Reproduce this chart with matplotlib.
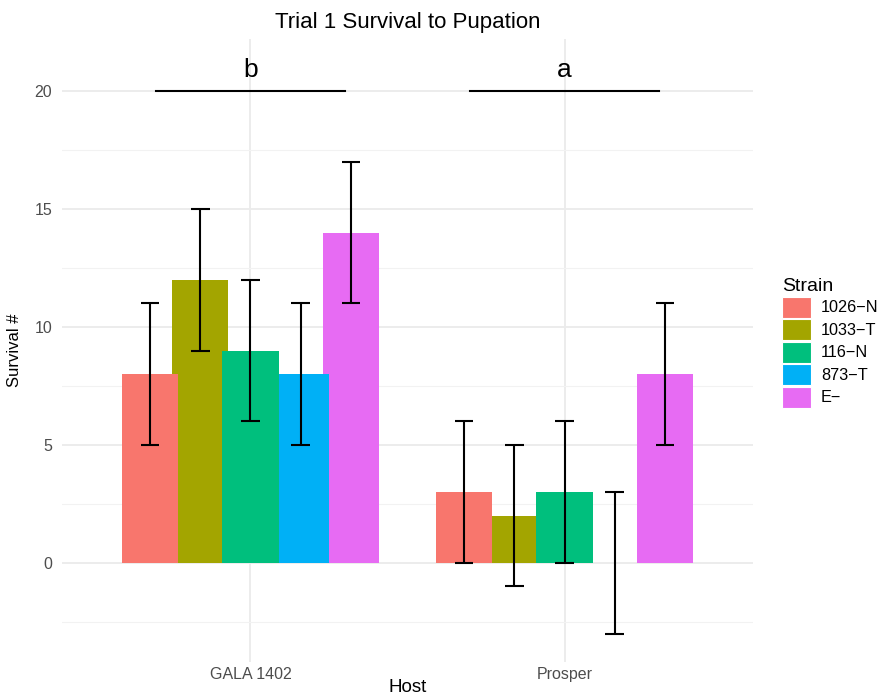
import matplotlib
matplotlib.use("Agg")
import matplotlib.pyplot as plt
from matplotlib.patches import Patch
import numpy as np

plt.rcParams['font.family'] = ['Liberation Sans', 'DejaVu Sans']

hosts = ["GALA 1402", "Prosper"]
strains = ["1026\u2212N", "1033\u2212T", "116\u2212N", "873\u2212T", "E\u2212"]
colors = ["#F8766D", "#A3A500", "#00BF7D", "#00B0F6", "#E76BF3"]
survival = {
    "1026\u2212N": [8, 3],
    "1033\u2212T": [12, 2],
    "116\u2212N": [9, 3],
    "873\u2212T": [8, 0],
    "E\u2212": [14, 8],
}
err = {
    "1026\u2212N": [3, 3],
    "1033\u2212T": [3, 3],
    "116\u2212N": [3, 3],
    "873\u2212T": [3, 3],
    "E\u2212": [3, 3],
}
sig_letters = ["b", "a"]
sig_y = 20

fig = plt.figure(figsize=(8.81, 6.97), dpi=100)
ax = fig.add_axes([62/881, 1-662/697, (753-62)/881, (662-39)/697])

xc = np.arange(1, len(hosts)+1)
dodge = 0.16
barw = 0.18
zorders = [4, 2, 4, 2, 1]
for i, s in enumerate(strains):
    x = xc + (i - 2) * dodge
    ax.bar(x, survival[s], width=barw, color=colors[i], edgecolor='none', zorder=zorders[i])
    ax.errorbar(x, survival[s], yerr=err[s], fmt='none', ecolor='black',
                elinewidth=1.5, capsize=0, zorder=6)
    for xi, v, e in zip(x, survival[s], err[s]):
        for yy in (v - e, v + e):
            ax.plot([xi - 0.03, xi + 0.03], [yy, yy], color='black', lw=1.5, zorder=6,
                    solid_capstyle='butt')

for xi, lt in zip(xc, sig_letters):
    ax.plot([xi - 0.3, xi + 0.3], [sig_y, sig_y], color='black', lw=1.5, zorder=6)
    ax.text(xi, sig_y + 0.6, lt, ha='center', va='baseline', fontsize=19, color='black')

ax.set_xlim(0.4, 2.6)
ax.set_ylim(-4.2, 22.2)
ax.set_xticks(xc)
ax.set_xticklabels(hosts)
ax.set_yticks([0, 5, 10, 15, 20])
ax.set_yticks([-2.5, 2.5, 7.5, 12.5, 17.5], minor=True)
ax.tick_params(axis='both', which='both', length=0, labelsize=11.5, labelcolor='#4D4D4D')
ax.tick_params(axis='x', pad=3.5)
ax.tick_params(axis='y', pad=7)
ax.grid(True, which='major', color='#EBEBEB', lw=1.3, zorder=0)
ax.grid(True, which='minor', axis='y', color='#F2F2F2', lw=0.8, zorder=0)
ax.set_axisbelow(True)
for sp in ax.spines.values():
    sp.set_visible(False)

ax.set_xlabel("Host", fontsize=13.5, labelpad=-2)
ax.set_ylabel("Survival #", fontsize=12, labelpad=9,
              family=['Liberation Sans Narrow', 'Liberation Sans', 'DejaVu Sans'])
ax.set_title("Trial 1 Survival to Pupation", fontsize=16, pad=8)

handles = [Patch(facecolor=c, edgecolor='white', lw=0.8) for c in colors]
leg = fig.legend(handles, strains, title="Strain", loc='upper left',
                 bbox_to_anchor=(782/881, 1-278/697), bbox_transform=fig.transFigure,
                 frameon=False, fontsize=11.7, title_fontsize=14,
                 handlelength=1.8, handleheight=1.6, labelspacing=0.1,
                 handletextpad=0.6, borderpad=0, borderaxespad=0, alignment='left')

fig.savefig("out.png", dpi=100)
